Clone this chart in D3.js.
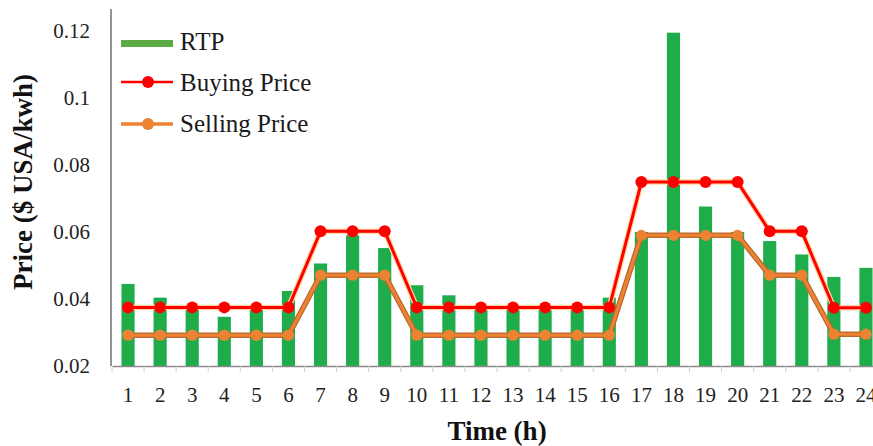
<!DOCTYPE html>
<html><head><meta charset="utf-8">
<script src="https://cdn.jsdelivr.net/npm/d3@7"></script>
<style>body{margin:0;background:#fff}svg{display:block}</style>
</head><body>
<svg id="c" width="873" height="446"></svg>
<script>
const hours = d3.range(1, 25).map(String);
const rtp = [0.0445,0.0404,0.037,0.0347,0.037,0.0424,0.0506,0.059,0.0552,0.0441,0.0411,0.037,0.037,0.037,0.037,0.0404,0.0600,0.1195,0.0676,0.0600,0.0573,0.0533,0.0466,0.0493];
const buying = [0.0375,0.0375,0.0375,0.0375,0.0375,0.0375,0.0602,0.0602,0.0602,0.0375,0.0375,0.0375,0.0375,0.0375,0.0375,0.0375,0.0749,0.0749,0.0749,0.0749,0.0602,0.0602,0.0374,0.0374];
const selling = [0.0292,0.0292,0.0292,0.0292,0.0292,0.0292,0.0471,0.0471,0.0471,0.0292,0.0292,0.0292,0.0292,0.0292,0.0292,0.0292,0.0590,0.0590,0.0590,0.0590,0.0471,0.0471,0.0295,0.0295];
const yTicks = [0.02,0.04,0.06,0.08,0.1,0.12];
const yTickLabels = ["0.02","0.04","0.06","0.08","0.1","0.12"];
const legendLabels = ["RTP","Buying Price","Selling Price"];

const svg = d3.select("#c");
const serif = "'Liberation Serif','Times New Roman',serif";
const x = d3.scaleBand().domain(hours).range([112, 882]).padding(0);
const y = d3.scaleLinear().domain([0.02, 0.12]).range([366, 31]);
const barW = x.bandwidth() * 0.41;
const cx = h => x(h) + x.bandwidth() / 2;

// bars
svg.append("g").selectAll("rect").data(rtp).join("rect")
  .attr("x", (d,i) => cx(hours[i]) - barW/2)
  .attr("y", d => y(d))
  .attr("width", barW)
  .attr("height", d => y(0.02) - y(d))
  .attr("fill", "#1fad4b");

// x axis
const xAxis = svg.append("g").attr("transform", "translate(0,366)")
  .call(d3.axisBottom(x).tickSize(0).tickPadding(21));
xAxis.select(".domain").attr("stroke", "#8a8a8a").attr("stroke-width", 1.5);
xAxis.selectAll("text").attr("font-family", serif).attr("font-size", 21).attr("fill", "#222");
svg.append("g").selectAll("line").data(hours).join("line")
  .attr("x1", h => x(h)).attr("x2", h => x(h))
  .attr("y1", 366).attr("y2", 372)
  .attr("stroke", "#d0d0d0").attr("stroke-width", 1);

// y axis
const yAxis = svg.append("g").attr("transform", "translate(111,0)")
  .call(d3.axisLeft(y).tickValues(yTicks).tickFormat((d,i) => yTickLabels[i]).tickSize(0).tickPadding(21));
yAxis.select(".domain").remove();
yAxis.selectAll("text").attr("font-family", serif).attr("font-size", 21).attr("fill", "#222");
svg.append("line").attr("x1", 111).attr("x2", 111).attr("y1", 9).attr("y2", 366)
  .attr("stroke", "#707070").attr("stroke-width", 1.5);

// lines
const line = d3.line().x((d,i) => cx(hours[i])).y(d => y(d));
function series(data, glow, col, r) {
  svg.append("path").datum(data).attr("d", line).attr("fill", "none")
    .attr("stroke", glow).attr("stroke-width", 5.5).attr("stroke-linejoin", "round");
  svg.append("path").datum(data).attr("d", line).attr("fill", "none")
    .attr("stroke", col).attr("stroke-width", 3).attr("stroke-linejoin", "round");
  svg.append("g").selectAll("circle").data(data).join("circle")
    .attr("cx", (d,i) => cx(hours[i])).attr("cy", d => y(d)).attr("r", r).attr("fill", col);
}
series(buying, "#ffd7a0", "#ff0000", 6);
series(selling, "#b8682e", "#ee8233", 5.6);

// legend
const lg = svg.append("g").attr("font-family", serif).attr("font-size", 25).attr("fill", "#1a1a1a");
lg.append("rect").attr("x", 121).attr("y", 40).attr("width", 52).attr("height", 7).attr("fill", "#5bab45");
lg.append("text").attr("x", 180).attr("y", 50).text(legendLabels[0]);
lg.append("line").attr("x1", 121).attr("x2", 173).attr("y1", 82).attr("y2", 82).attr("stroke", "#ff0000").attr("stroke-width", 2.5);
lg.append("circle").attr("cx", 148).attr("cy", 82).attr("r", 6).attr("fill", "#ff0000");
lg.append("text").attr("x", 180).attr("y", 91).text(legendLabels[1]);
lg.append("line").attr("x1", 121).attr("x2", 173).attr("y1", 124).attr("y2", 124).attr("stroke", "#ee8233").attr("stroke-width", 3.5);
lg.append("circle").attr("cx", 148).attr("cy", 124).attr("r", 6).attr("fill", "#ee8233");
lg.append("text").attr("x", 180).attr("y", 132).text(legendLabels[2]);

// titles
svg.append("text").attr("x", 497).attr("y", 440).attr("text-anchor", "middle")
  .attr("font-family", serif).attr("font-weight", "bold").attr("font-size", 27).attr("fill", "#111").text("Time (h)");
svg.append("text").attr("transform", "translate(32,182) rotate(-90)").attr("text-anchor", "middle")
  .attr("font-family", serif).attr("font-weight", "bold").attr("font-size", 27).attr("fill", "#111").text("Price ($ USA/kwh)");
</script>
</body></html>
